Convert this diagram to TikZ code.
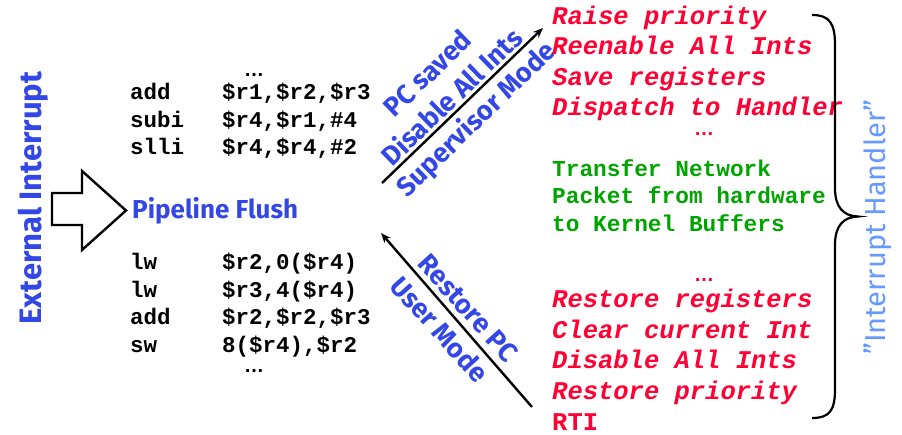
\documentclass[tikz,border=0pt]{standalone}
\usepackage{fontspec}
\setmainfont{Liberation Sans}
\setmonofont{Liberation Mono}
\newfontfamily\blufont{Fira Sans}
\usetikzlibrary{arrows.meta}
\definecolor{ublue}{HTML}{3347E6}
\definecolor{ured}{HTML}{FF0033}
\definecolor{ugreen}{HTML}{00A400}
\definecolor{lblue}{HTML}{6699FF}
\tikzset{
  codeline/.style={anchor=base west, inner sep=0pt, font=\ttfamily\bfseries\fontsize{22.5}{25}\selectfont, text=black},
  redline/.style={anchor=base west, inner sep=0pt, font=\ttfamily\bfseries\itshape\fontsize{25.5}{28}\selectfont, text=ured},
  greenline/.style={anchor=base west, inner sep=0pt, font=\ttfamily\bfseries\fontsize{22.8}{25}\selectfont, text=ugreen},
  dotsline/.style={anchor=base, inner sep=0pt, font=\bfseries\fontsize{20}{22}\selectfont},
  bluelabel/.style={inner sep=0pt, font=\blufont\bfseries\fontsize{26}{28}\selectfont, text=ublue},
  slantlabel/.style={bluelabel, font=\blufont\bfseries\fontsize{27}{29}\selectfont},
  flowarrow/.style={line width=2.4pt, -{Stealth[length=10pt,width=8pt]}},
}
\newcommand{\mn}[1]{\makebox[92pt][l]{#1}}
\begin{document}
\begin{tikzpicture}[x=1pt,y=-1pt]
\useasboundingbox (0,0) rectangle (902,435);

% External interrupt label
\node[bluelabel, font=\blufont\bfseries\fontsize{31}{33}\selectfont, rotate=90] (ext) at (33,198) {External Interrupt};

% block arrow
\draw[line width=2.4pt, line join=miter] (52,193) -- (82,193) -- (82,171) -- (126,210.5) -- (82,250) -- (82,225) -- (52,225) -- cycle;

\node[bluelabel, anchor=west] (flush) at (132,211) {Pipeline Flush};

% code before
\node[dotsline] (cd1) at (254,77) {…};
\node[codeline] (c1) at (130,100) {\mn{add}\$r1,\$r2,\$r3};
\node[codeline] (c2) at (130,127.5) {\mn{subi}\$r4,\$r1,\#4};
\node[codeline] (c3) at (130,155) {\mn{slli}\$r4,\$r4,\#2};

% code after
\node[codeline] (c4) at (130,270) {\mn{lw}\$r2,0(\$r4)};
\node[codeline] (c5) at (130,297.5) {\mn{lw}\$r3,4(\$r4)};
\node[codeline] (c6) at (130,325) {\mn{add}\$r2,\$r2,\$r3};
\node[codeline] (c7) at (130,352.5) {\mn{sw}8(\$r4),\$r2};
\node[dotsline] (cd2) at (254,373) {…};

% arrows
\coordinate (upA) at (382,183);
\coordinate (upB) at (543,28);
\draw[flowarrow] (upA) -- (upB);
\coordinate (dnA) at (532,407);
\coordinate (dnB) at (381,233);
\draw[flowarrow] (dnA) -- (dnB);

\node[slantlabel, rotate=44] (pcs) at (427,73) {PC saved};
\node[slantlabel, rotate=44] (dis) at (451,96) {Disable All Ints};
\node[slantlabel, rotate=44] (sup) at (477,120) {Supervisor Mode};

\node[slantlabel, rotate=-48] (rpc) at (468,308) {Restore PC};
\node[slantlabel, rotate=-48] (usm) at (440,329) {User Mode};

% handler text
\node[redline] (h1) at (552,25) {Raise priority};
\node[redline] (h2) at (552,55) {Reenable All Ints};
\node[redline] (h3) at (552,85.5) {Save registers};
\node[redline] (h4) at (552,115.5) {Dispatch to Handler};
\node[dotsline, text=ured] (hd1) at (704,136) {…};
\node[greenline] (g1) at (552,177) {Transfer Network};
\node[greenline] (g2) at (552,204) {Packet from hardware};
\node[greenline] (g3) at (552,232) {to Kernel Buffers};
\node[dotsline, text=ured] (hd2) at (704,282) {…};
\node[redline] (h5) at (552,308) {Restore registers};
\node[redline] (h6) at (552,338.5) {Clear current Int};
\node[redline] (h7) at (552,369) {Disable All Ints};
\node[redline] (h8) at (552,399.5) {Restore priority};
\node[redline, font=\ttfamily\bfseries\fontsize{25.5}{28}\selectfont] (h9) at (552,430) {RTI};

% brace
\draw[line width=2.2pt] (812,15) .. controls (830,15) and (835,24) .. (835,45)
  -- (835,188) .. controls (835,207) and (843,216) .. (858,216.5)
  .. controls (843,217) and (835,226) .. (835,245)
  -- (835,389) .. controls (835,410) and (830,418) .. (812,418);

\node[inner sep=0pt, rotate=90, text=lblue, font=\blufont\fontsize{29}{32}\selectfont] (ih) at (878,227) {”Interrupt Handler”};
\end{tikzpicture}
\end{document}
